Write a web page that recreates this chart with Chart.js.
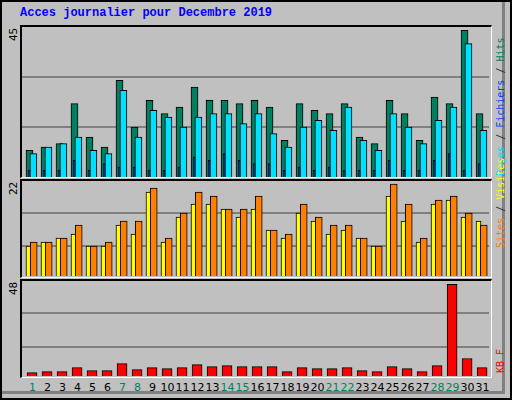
<html>
<head>
<title>Acces journalier</title>
<script src="https://cdn.jsdelivr.net/npm/chart.js@4"></script>
<style>
  body{ margin:0; width:512px; height:400px; overflow:hidden; background:#c0c0c0; font-family:"DejaVu Sans Mono", monospace; }
  .frame{ position:absolute; left:0; top:0; width:508px; height:396px; border:2px solid #000; }
  .frame2{ position:absolute; left:2px; top:2px; width:500px; height:389px; border-right:3px solid #808080; border-bottom:3px solid #808080; }
  .title{ position:absolute; left:20px; top:6px; color:#0000ff; font-weight:bold; font-size:12px; font-family:"Liberation Mono","DejaVu Sans Mono",monospace; }
  .box{ position:absolute; left:20px; width:469px; border-top:2px solid #000; border-left:2px solid #000; border-right:1px solid #fff; border-bottom:1px solid #fff; }
  canvas{ position:absolute; }
  .vl{ position:absolute; transform-origin:0 0; transform:rotate(-90deg); white-space:nowrap; font-size:10px; font-family:"DejaVu Sans Mono",monospace; }
  .day{ position:absolute; top:381px; font-size:11px; font-family:"DejaVu Sans",sans-serif; transform:translateX(-50%); }
</style>
</head>
<body>
<div class="frame"></div><div class="frame2"></div>
<div class="title">Acces journalier pour Decembre 2019</div>
<div class="box" style="top:25px;height:150px"></div>
<div class="box" style="top:179px;height:96px"></div>
<div class="box" style="top:279px;height:96px"></div>
<canvas id="c1" style="left:22px;top:27px;width:467px;height:150px"></canvas>
<canvas id="c2" style="left:22px;top:181px;width:467px;height:95px"></canvas>
<canvas id="c3" style="left:22px;top:281px;width:467px;height:95px"></canvas>

<div class="vl" style="left:7px;top:41px;font-size:11px">45</div>
<div class="vl" style="left:7px;top:195px;font-size:11px">22</div>
<div class="vl" style="left:7px;top:295px;font-size:11px">48</div>
<div class="vl" style="left:495px;top:176px"><span style="color:#00d8f8">Pages</span> <span style="color:#333">/</span> <span style="color:#0040ff">Fichiers</span> <span style="color:#333">/</span> <span style="color:#008060">Hits</span></div>
<div class="vl" style="left:495px;top:248px"><span style="color:#ff8000">Sites</span> <span style="color:#333">/</span> <span style="color:#ffff00">Visites</span></div>
<div class="vl" style="left:495px;top:373px"><span style="color:#ff0000">KB F</span></div>
<div id="days"></div>

<script>
var days = [];
for (var d = 1; d <= 31; d++) days.push(d);
var weekend = [1,7,8,14,15,21,22,28,29];

var hits     = [8,9,10,22,12,9,29,15,23,19,21,27,23,23,22,23,21,11,22,20,19,22,12,10,23,19,11,24,22,44,19];
var fichiers = [7,9,10,12,8,7,26,12,20,18,15,18,19,19,16,19,13,9,15,17,14,21,11,8,19,15,10,17,21,40,14];
var pages    = [2,2,2,5,2,4,3,3,2,2,3,6,5,7,5,4,4,2,3,2,3,2,2,2,5,2,2,5,7,2,4];
var visites  = [7.5,8.5,9.5,10.5,7.5,7.5,12.75,10.5,21,8.5,14.75,18,18,16.75,14.75,16.75,11.5,9.5,15.75,13.75,10.5,11.5,9.5,7.5,20,13.75,8.5,18,19,14.75,13.75];
var sites    = [8.5,8.5,9.5,12.75,7.5,8.5,13.75,13.75,22,9.5,15.75,21,20,16.75,16.75,20,11.5,10.5,18,14.75,12.75,12.75,9.5,7.5,23,18,9.5,19,20,15.75,12.75];
var kb       = [1.7,2.2,2.2,4.2,2.7,2.7,6.2,3.2,4.2,3.7,4.2,5.7,4.7,5.2,4.7,4.7,4.7,2.2,4.2,3.7,3.7,4.2,2.7,2.2,4.7,3.7,2.2,5.2,45.7,8.7,4.2];

function pts(arr, off){
  return arr.map(function(v, i){ return {x: days[i] + off, y: v}; });
}
function ds(arr, off, color, w, order){
  return {data: pts(arr, off), backgroundColor: color, borderColor: '#000', borderWidth: 1,
          borderSkipped: 'bottom', barThickness: w, grouped: false, order: order};
}
function make(id, sets, max, grid){
  return new Chart(document.getElementById(id), {
    type: 'bar',
    data: {datasets: sets},
    options: {
      animation: false, responsive: false, devicePixelRatio: 1,
      layout: {padding: 0},
      plugins: {legend: {display: false}, tooltip: {enabled: false}},
      scales: {
        x: {type: 'linear', min: 0.5, max: 31.63, offset: false, bounds: 'ticks', display: false},
        y: {min: 0, max: max, display: true, border: {display: false},
            ticks: {display: false},
            afterBuildTicks: function(ax){ ax.ticks = grid.map(function(v){ return {value: v}; }); },
            grid: {color: '#808080', lineWidth: 2, drawTicks: false}}
      }
    }
  });
}
function size(id){ var c = document.getElementById(id); c.width = parseInt(c.style.width); c.height = parseInt(c.style.height); }
size('c1'); size('c2'); size('c3');

var c1 = make('c1', [
  ds(pages, -0.03, '#0040ff', 2, 0),
  ds(fichiers, 0.26, '#00e0ff', 7, 1),
  ds(hits, 0, '#008060', 7, 2)
], 45, [15, 30]);
make('c2', [
  ds(sites, 0.28, '#ff8000', 7, 0),
  ds(visites, -0.07, '#ffff00', 5, 1)
], 23.8, [7.5, 15.75]);
make('c3', [
  ds(kb, 0.17, '#ff0000', 10, 0)
], 47.3, [14.5, 31.2]);

var sx = c1.scales.x;
var html = '';
days.forEach(function(d){
  var x = 22 + sx.getPixelForValue(d + 0.2);
  var col = weekend.indexOf(d) >= 0 ? '#008060' : '#000';
  html += '<div class="day" style="left:' + x + 'px;color:' + col + '">' + d + '</div>';
});
document.getElementById('days').innerHTML = html;
</script>
</body>
</html>
